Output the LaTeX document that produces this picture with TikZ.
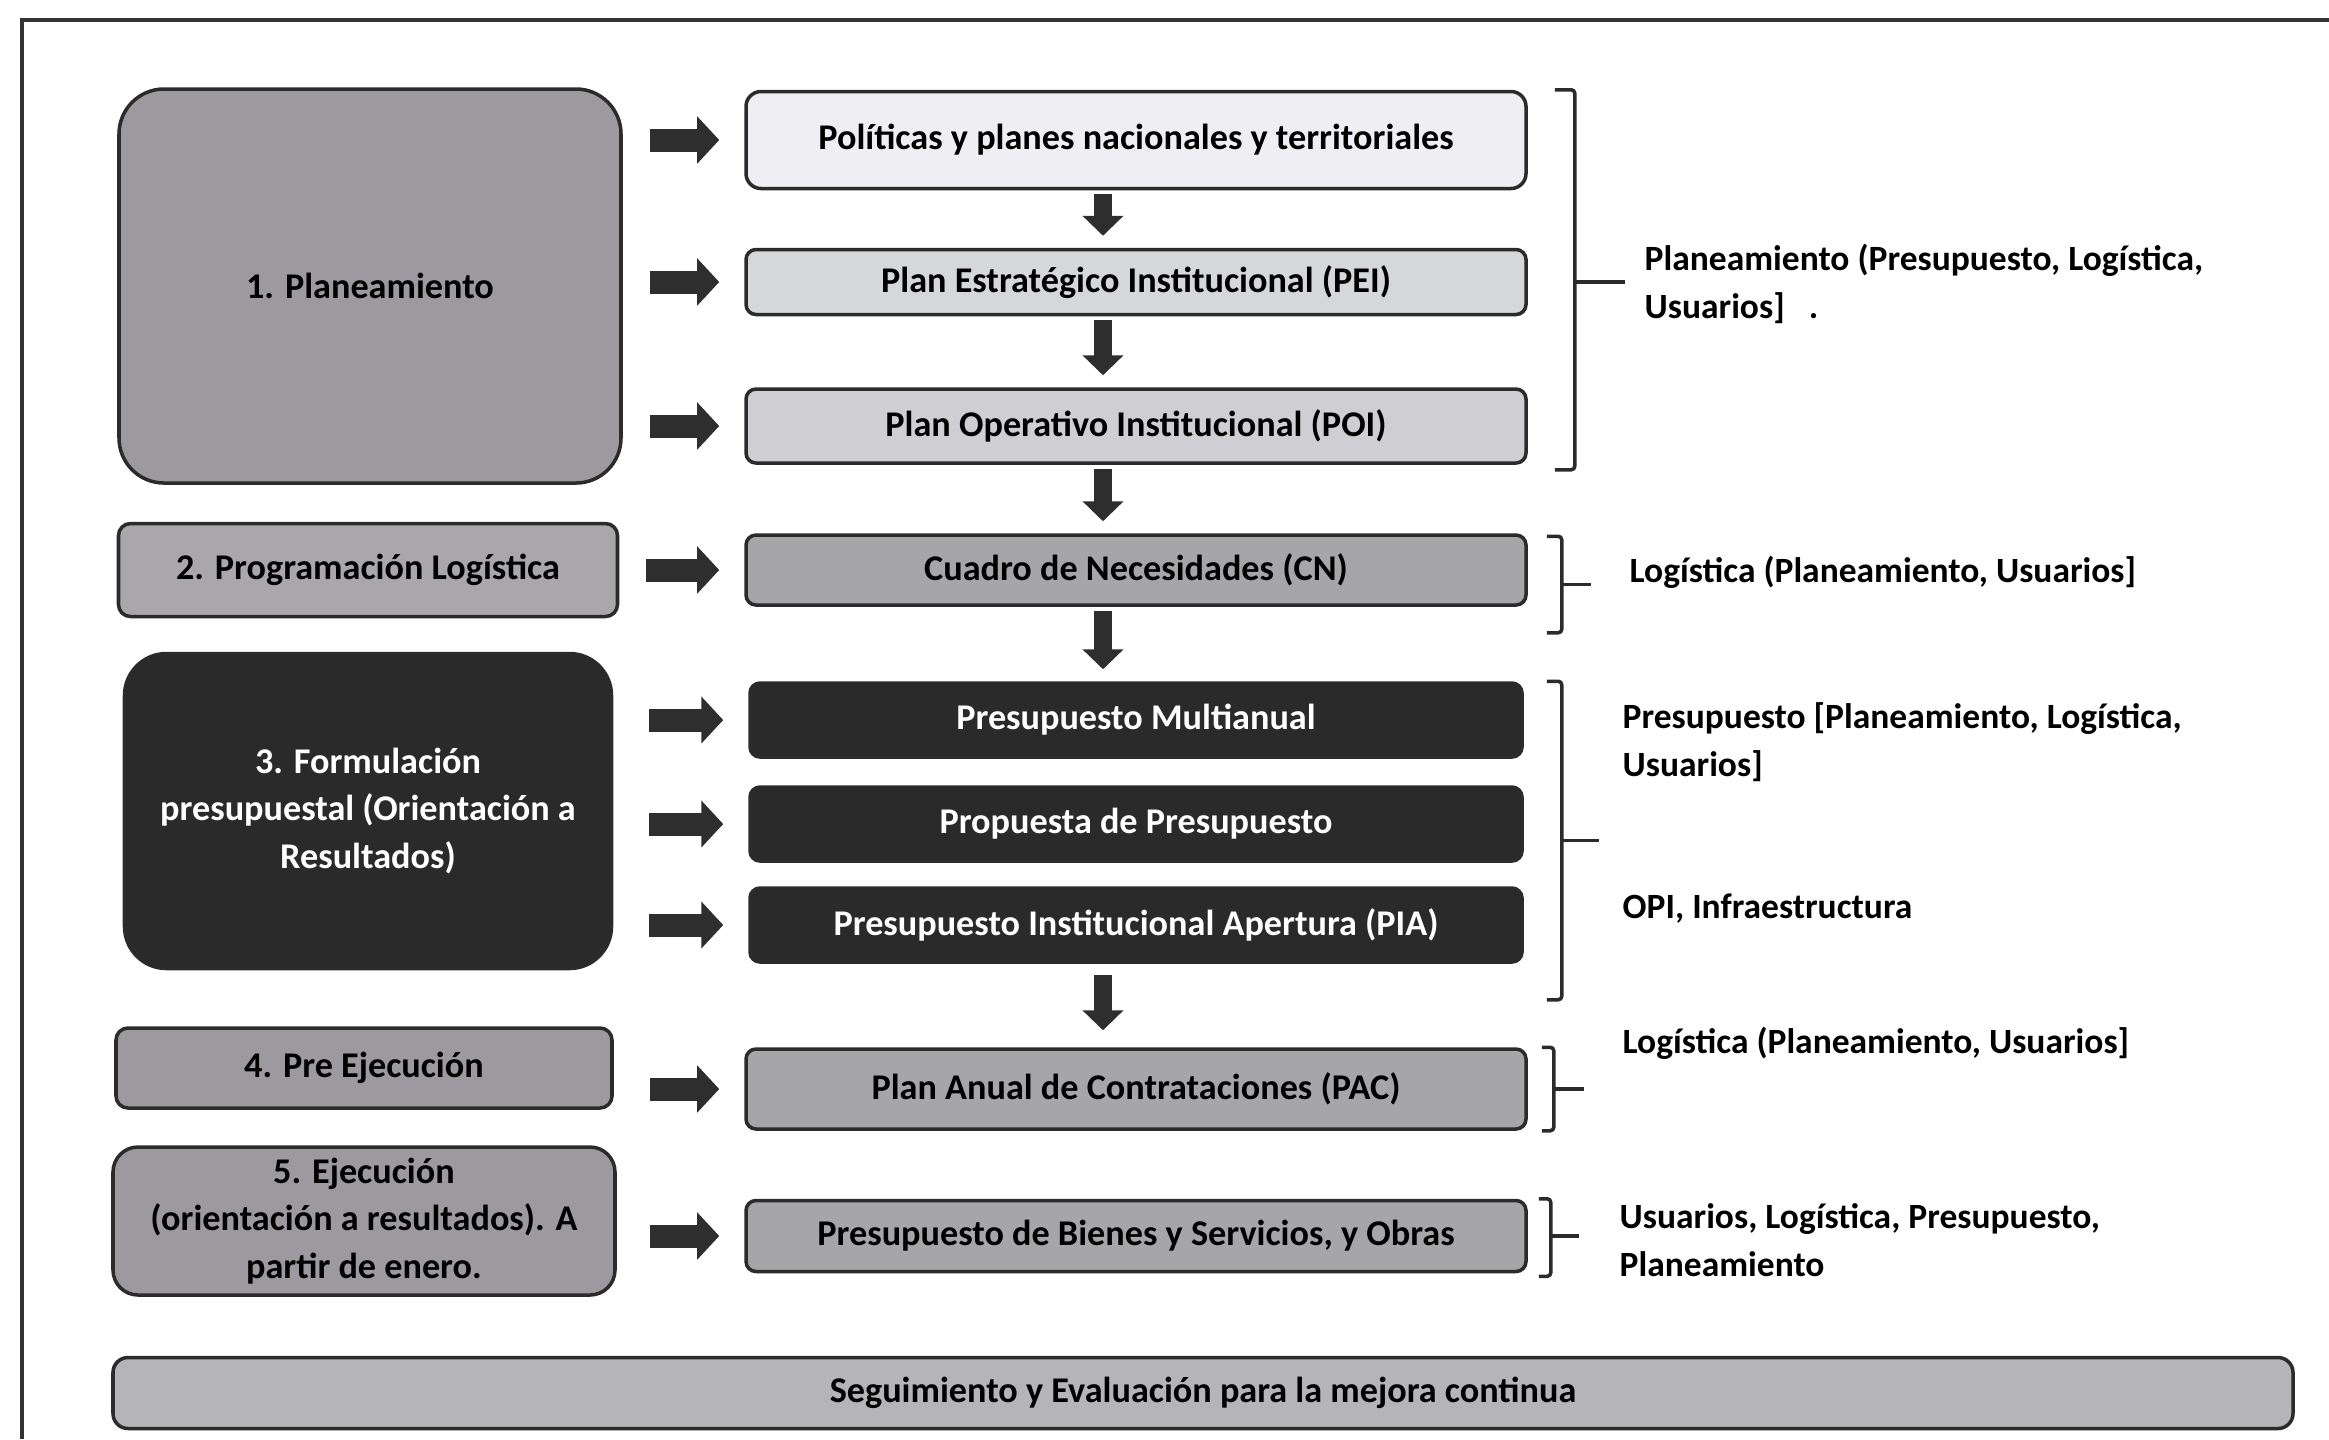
\documentclass[tikz,border=0pt]{standalone}
\usepackage{fontspec}
\setmainfont{Carlito}
\usepackage{tikz}
\usetikzlibrary{arrows.meta}

\definecolor{boxline}{HTML}{2B2B2B}
\definecolor{stagegray}{HTML}{9C9A9E}
\definecolor{stagelight}{HTML}{A9A7AA}
\definecolor{darkbox}{HTML}{2A2A2A}
\definecolor{polfill}{HTML}{EFEEF3}
\definecolor{peifill}{HTML}{D6D7D9}
\definecolor{poifill}{HTML}{CFCFD3}
\definecolor{cnfill}{HTML}{A6A6A8}
\definecolor{bandfill}{HTML}{B5B5B8}
\definecolor{arrowgray}{HTML}{2E2E2E}
\definecolor{framegray}{HTML}{333333}

\begin{document}
\begin{tikzpicture}[
            stage node/.style={draw=boxline, line width=1pt, fill=stagegray, text=black, align=center, inner sep=2pt, font=\bfseries\fontsize{10.3}{13.5}\selectfont},
            doc node/.style={draw=boxline, line width=1pt, rounded corners=0.1cm, minimum width=7.8cm, inner sep=2pt, font=\bfseries\fontsize{10.3}{13.5}\selectfont},
            dark node/.style={doc node, fill=darkbox, text=white, minimum width=7.72cm, minimum height=0.74cm},
            note node/.style={anchor=west, align=left, inner sep=0pt, font=\bfseries\fontsize{10.1}{13.5}\selectfont},
            side arrow/.style={draw=arrowgray, line width=0.23cm, -{Triangle[width=0.46cm,length=0.22cm]}, shorten <=0.27cm, shorten >=0.25cm},
            down arrow/.style={draw=arrowgray, line width=0.18cm, -{Triangle[width=0.4cm,length=0.2cm]}, shorten <=0.04cm, shorten >=0.12cm},
            brace line/.style={draw=boxline, line width=1pt, rounded corners=1pt},
            ]
            \useasboundingbox (0,0) rectangle (23.29,-14.39);
            \draw[line width=1.1pt, draw=framegray] (23.29,-0.2) -- (0.22,-0.2) -- (0.22,-14.39);

            \node[stage node, minimum width=5.02cm, minimum height=3.94cm, rounded corners=0.45cm] (plan) at (3.70,-2.86) {1. Planeamiento};
            \node[stage node, fill=stagelight, minimum width=4.99cm, minimum height=0.93cm, rounded corners=0.12cm] (prog) at (3.68,-5.70) {2. Programación Logística};
            \node[stage node, fill=darkbox, text=white, minimum width=4.87cm, minimum height=3.15cm, rounded corners=0.42cm] (form) at (3.68,-8.11) {3. Formulación\\presupuestal (Orientación a\\Resultados)};
            \node[stage node, minimum width=4.96cm, minimum height=0.80cm, rounded corners=0.12cm] (pre) at (3.64,-10.68) {4. Pre Ejecución};
            \node[stage node, minimum width=5.02cm, minimum height=1.48cm, rounded corners=0.25cm] (ejec) at (3.64,-12.21) {5. Ejecución\\(orientación a resultados). A\\partir de enero.};

            \node[doc node, fill=polfill, minimum height=0.97cm, rounded corners=0.15cm] (pol) at (11.36,-1.40) {Políticas y planes nacionales y territoriales};
            \node[doc node, fill=peifill, minimum height=0.65cm] (pei) at (11.36,-2.82) {Plan Estratégico Institucional (PEI)};
            \node[doc node, fill=poifill, minimum height=0.74cm] (poi) at (11.36,-4.26) {Plan Operativo Institucional (POI)};
            \node[doc node, fill=cnfill, minimum height=0.70cm] (cn) at (11.36,-5.70) {Cuadro de Necesidades (CN)};
            \node[dark node] (multi) at (11.36,-7.20) {Presupuesto Multianual};
            \node[dark node] (prop) at (11.36,-8.24) {Propuesta de Presupuesto};
            \node[dark node] (pia) at (11.36,-9.25) {Presupuesto Institucional Apertura (PIA)};
            \node[doc node, fill=cnfill, minimum height=0.80cm] (pac) at (11.36,-10.89) {Plan Anual de Contrataciones (PAC)};
            \node[doc node, fill=cnfill, minimum height=0.71cm] (bienes) at (11.36,-12.36) {Presupuesto de Bienes y Servicios, y Obras};

            \node[stage node, fill=bandfill, minimum width=21.8cm, minimum height=0.71cm, rounded corners=0.15cm] (seg) at (12.03,-13.93) {Seguimiento y Evaluación para la mejora continua};

            \draw[side arrow] (plan.east |- pol.west) -- (pol.west);
            \draw[side arrow] (plan.east |- pei.west) -- (pei.west);
            \draw[side arrow] (plan.east |- poi.west) -- (poi.west);
            \draw[side arrow] (prog.east |- cn.west) -- (cn.west);
            \draw[side arrow, shorten <=0.36cm] (form.east |- multi.west) -- (multi.west);
            \draw[side arrow, shorten <=0.36cm] (form.east |- prop.west) -- (prop.west);
            \draw[side arrow, shorten <=0.36cm] (form.east |- pia.west) -- (pia.west);
            \draw[side arrow, shorten <=0.36cm] (pre.east |- pac.west) -- (pac.west);
            \draw[side arrow, shorten <=0.33cm] (ejec.east |- bienes.west) -- (bienes.west);

            \draw[down arrow] ([xshift=-0.33cm]pol.south) -- ([xshift=-0.33cm]pei.north);
            \draw[down arrow] ([xshift=-0.33cm]pei.south) -- ([xshift=-0.33cm]poi.north);
            \draw[down arrow] ([xshift=-0.33cm]poi.south) -- ([xshift=-0.33cm]cn.north);
            \draw[down arrow] ([xshift=-0.33cm]cn.south) -- ([xshift=-0.33cm]multi.north);
            \draw[down arrow, shorten <=0.11cm, shorten >=0.17cm] ([xshift=-0.33cm]pia.south) -- ([xshift=-0.33cm]pac.north);

            \draw[brace line] ([xshift=0.27cm]pol.north east) -- ++(0.2,0) |- ([xshift=0.27cm,yshift=-0.05cm]poi.south east);
            \draw[brace line] ([xshift=0.47cm]pei.east) -- ++(0.5,0);
            \draw[brace line] ([xshift=0.19cm,yshift=-0.03cm]cn.north east) -- ++(0.15,0) |- ([xshift=0.19cm,yshift=-0.26cm]cn.south east);
            \draw[brace line] ([xshift=0.34cm,yshift=-0.145cm]cn.east) -- ++(0.29,0);
            \draw[brace line] ([xshift=0.23cm]multi.north east) -- ++(0.15,0) |- ([xshift=0.23cm,yshift=-0.36cm]pia.south east);
            \draw[brace line] ([xshift=0.38cm,yshift=-0.165cm]prop.east) -- ++(0.37,0);
            \draw[brace line] ([xshift=0.14cm]pac.north east) -- ++(0.12,0) |- ([xshift=0.14cm]pac.south east);
            \draw[brace line] ([xshift=0.26cm]pac.east) -- ++(0.3,0);
            \draw[brace line] ([xshift=0.11cm]bienes.north east) -- ++(0.12,0) |- ([xshift=0.11cm,yshift=-0.03cm]bienes.south east);
            \draw[brace line] ([xshift=0.23cm]bienes.east) -- ++(0.28,0);

            \node[note node] (n1) at (16.44,-2.84) {Planeamiento (Presupuesto, Logística,\\Usuarios]~~~.};
            \node[note node] (n2) at (16.29,-5.72) {Logística (Planeamiento, Usuarios]};
            \node[note node] (n3) at (16.22,-7.42) {Presupuesto [Planeamiento, Logística,\\Usuarios]};
            \node[note node] (n4) at (16.22,-9.09) {OPI, Infraestructura};
            \node[note node] (n5) at (16.22,-10.43) {Logística (Planeamiento, Usuarios]};
            \node[note node] (n6) at (16.19,-12.40) {Usuarios, Logística, Presupuesto,\\Planeamiento};
        \end{tikzpicture}
\end{document}
